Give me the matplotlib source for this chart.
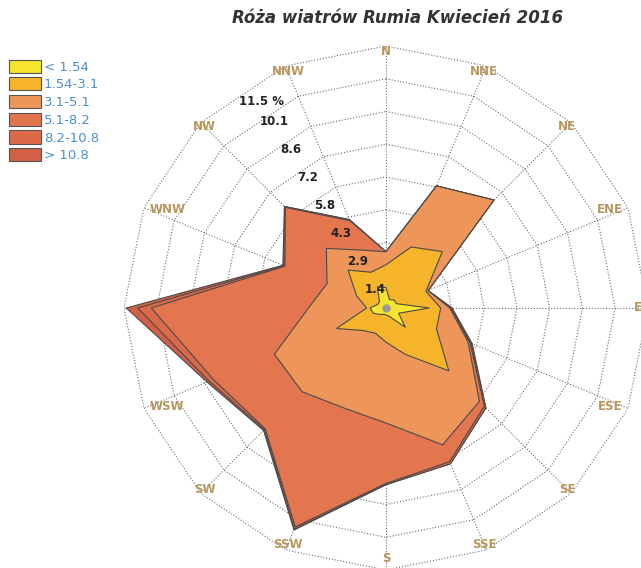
import numpy as np
import matplotlib.pyplot as plt
from matplotlib.patches import Patch

# kierunki wiatru (od N zgodnie z ruchem wskazowek zegara)
directions = ["N", "NNE", "NE", "ENE", "E", "ESE", "SE", "SSE",
              "S", "SSW", "SW", "WSW", "W", "WNW", "NW", "NNW"]

# klasy predkosci [m/s]
speed_classes = ["< 1.54", "1.54-3.1", "3.1-5.1", "5.1-8.2", "8.2-10.8", "> 10.8"]
class_colors = ["#F6E42E", "#F5B42A", "#EE9659", "#E3764F", "#DC6A4A", "#D45F47"]

# czestosc [%] dla kazdej klasy i kierunku
freq_0 = [0.9, 0.4, 0.5, 0.5, 1.9, 0.6, 1.2, 0.4, 0.3, 0.3, 0.4, 0.6, 0.7, 0.4, 0.4, 1.0]
freq_1 = [1.0, 2.5, 3.0, 1.4, 0.5, 1.8, 2.7, 1.8, 1.2, 0.9, 1.0, 1.75, 0.15, 1.0, 1.95, 0.7]
freq_2 = [0.57, 2.9, 3.2, 0.1, 0.4, 1.5, 1.9, 4.3, 3.55, 3.56, 3.8, 2.95, 2.55, 1.4, 1.35, 1.05]
freq_3 = [0.0, 0.0, 0.0, 0.0, 0.05, 0.1, 0.3, 0.8, 2.65, 5.64, 2.3, 2.9, 6.9, 2.0, 2.55, 1.4]
freq_4 = [0.0, 0.0, 0.0, 0.0, 0.05, 0.05, 0.1, 0.1, 0.05, 0.1, 0.05, 0.2, 0.6, 0.05, 0.05, 0.05]
freq_5 = [0.0, 0.0, 0.0, 0.0, 0.0, 0.05, 0.0, 0.0, 0.01, 0.05, 0.05, 0.1, 0.5, 0.05, 0.0, 0.0]

ring_labels = ["1.4", "2.9", "4.3", "5.8", "7.2", "8.6", "10.1", "11.5 %"]
r_max = 11.5

fig = plt.figure(figsize=(6.41, 5.68), dpi=100)
ax = fig.add_axes([0.1934, -0.0035, 0.8175, 0.9225], projection="polar")
ax.set_theta_zero_location("N")
ax.set_theta_direction(-1)
ax.set_ylim(0, r_max)
ax.axis("off")

theta = np.deg2rad(np.arange(len(directions)) * 22.5)
theta_c = np.append(theta, theta[0])

# siatka - wielokaty i promienie
rings = np.linspace(0, r_max, len(ring_labels) + 1)[1:]
for r in rings:
    ax.plot(theta_c, np.full(len(theta_c), r), color="#6e6e6e", lw=0.8,
            ls=(0, (1, 1.6)), zorder=1)
for th in theta:
    ax.plot([th, th], [0, r_max], color="#6e6e6e", lw=0.8,
            ls=(0, (1, 1.6)), zorder=1)

# etykiety kierunkow (W zasloniete przez wykres)
for th, name in zip(theta, directions):
    if name == "W":
        continue
    if name in ("ENE", "E", "ESE"):
        ha = "right"
    elif name in ("WNW", "WSW"):
        ha = "left"
    else:
        ha = "center"
    rr = 11.0 if name == "S" else 11.25
    ax.text(th, rr, name, ha=ha, va="center", fontsize=8.5,
            fontweight="bold", color="#B8975E", zorder=1)

# warstwy (skumulowane)
stack = np.array([freq_0, freq_1, freq_2, freq_3, freq_4, freq_5])
cum = np.cumsum(stack, axis=0)
for i in range(len(speed_classes) - 1, -1, -1):
    vals = np.append(cum[i], cum[i][0])
    ax.fill(theta_c, vals, facecolor=class_colors[i], edgecolor="#4a4a4a",
            lw=0.8, zorder=3 + (5 - i))

ax.plot(0, 0, "o", color="#9a9a9a", ms=5, zorder=12)

# etykiety pierscieni
for r, lab in zip(rings, ring_labels):
    off = 0.9 if "%" in lab else 0.5
    ax.text(np.deg2rad(329), r - off, lab, ha="center", va="center",
            fontsize=8.5, fontweight="bold", color="#222222", zorder=11)

fig.text(0.621, 0.968, "Róża wiatrów Rumia Kwiecień 2016", ha="center",
         va="center", fontsize=12, fontweight="bold", style="italic",
         color="#333333")

handles = [Patch(facecolor=c, edgecolor="#555555", lw=0.8) for c in class_colors]
fig.legend(handles, speed_classes, loc="upper left", bbox_to_anchor=(0.014, 0.895),
           frameon=False, fontsize=9.5, labelcolor="#4F8FD0", handlelength=2.4,
           handleheight=1.15, labelspacing=0.28, handletextpad=0.25,
           borderpad=0, borderaxespad=0)

fig.savefig("out.png", dpi=100)
